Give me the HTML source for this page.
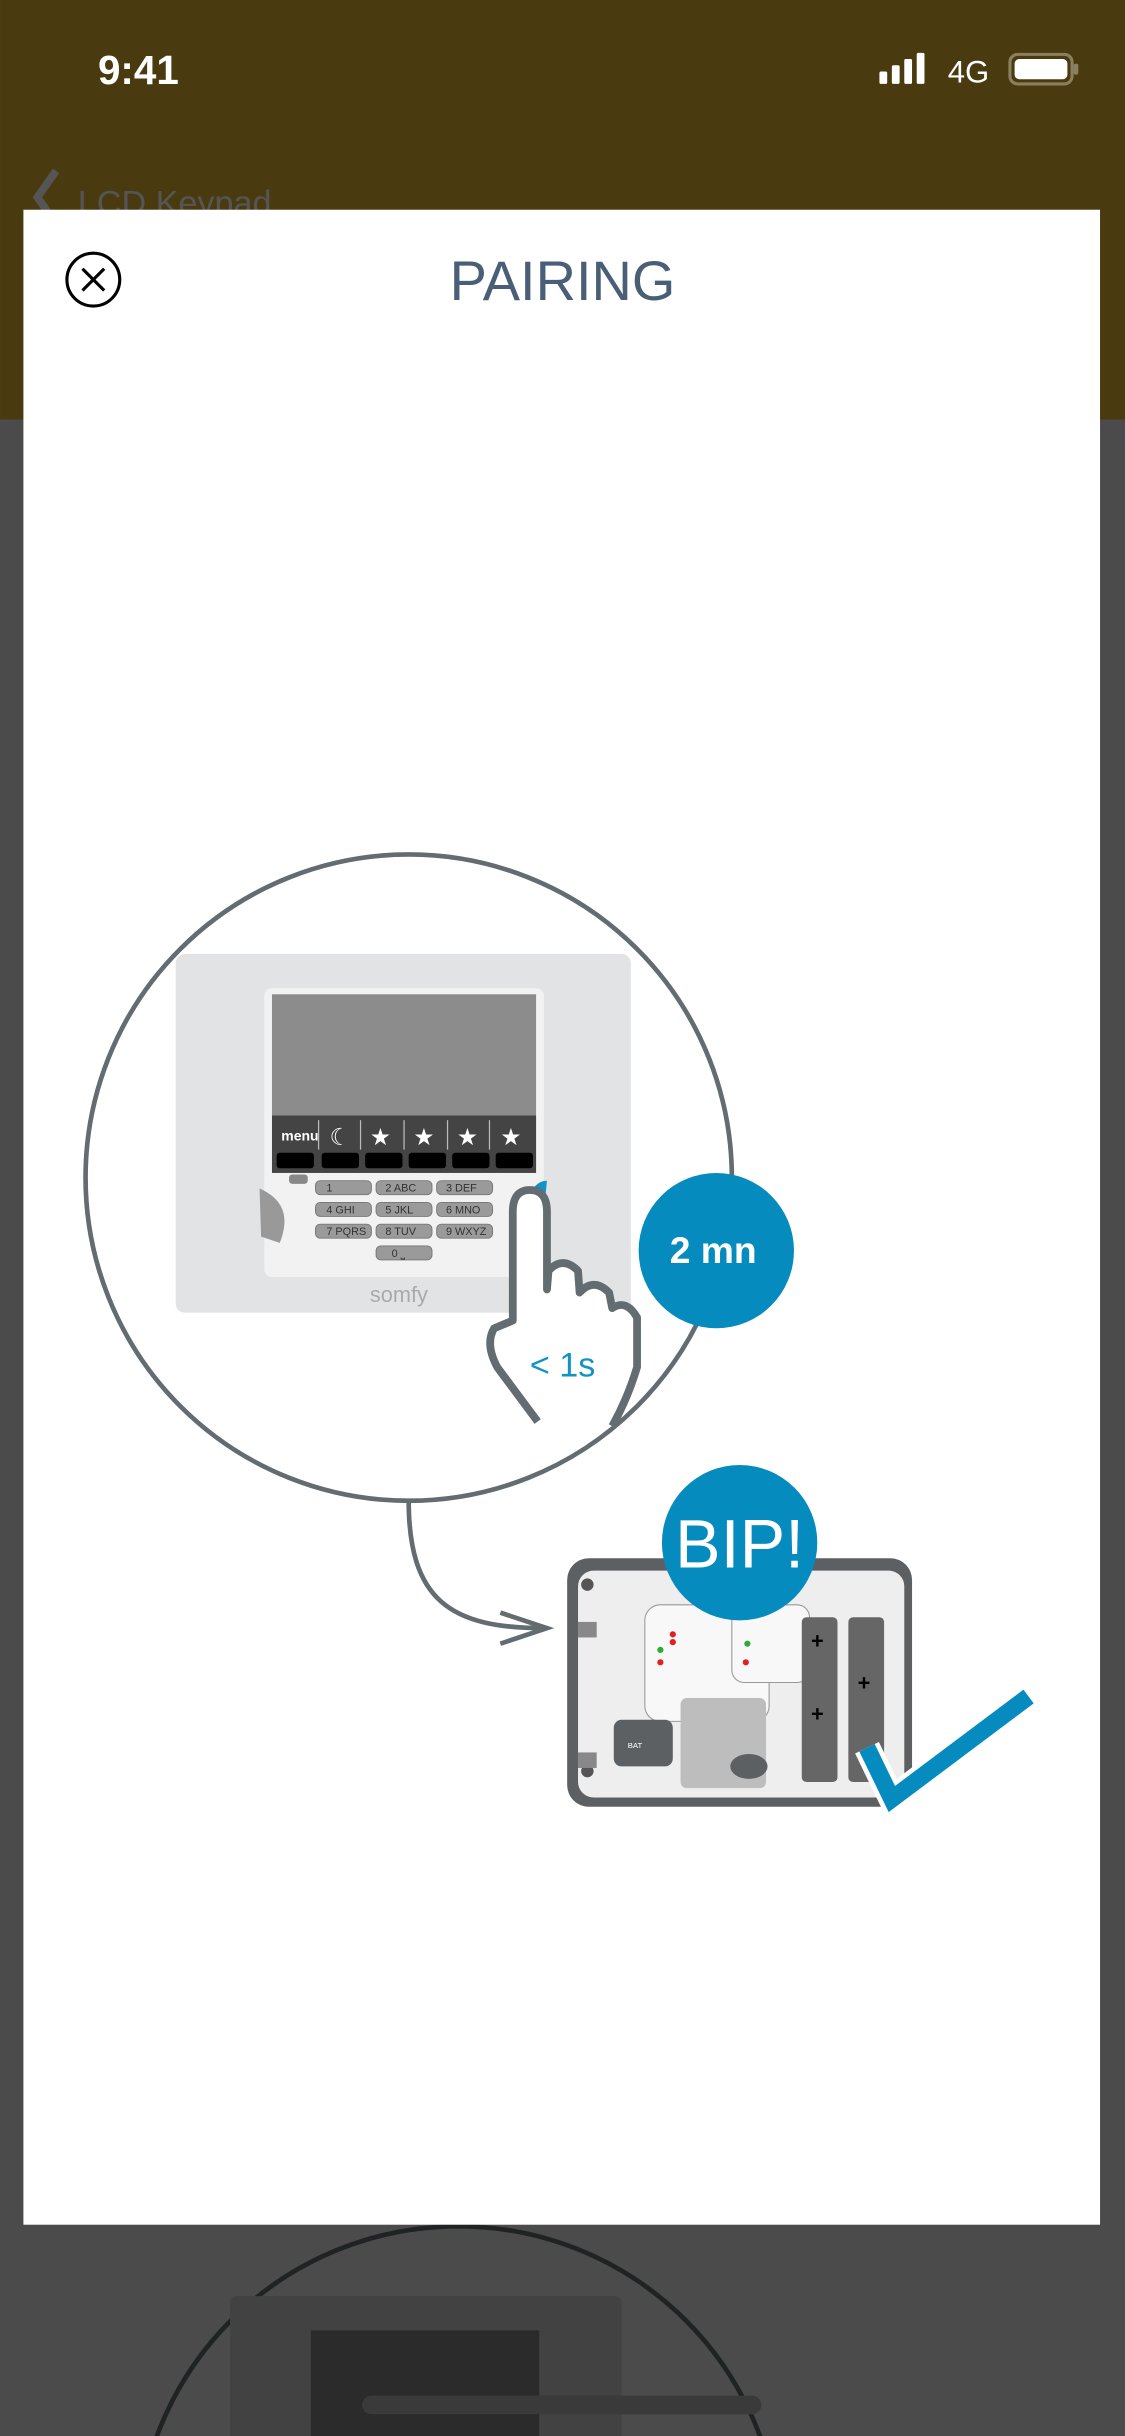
<!DOCTYPE html>
<html><head><meta charset="utf-8"><style>
html,body{margin:0;padding:0;background:#4b4b4b;width:1125px;height:2436px;overflow:hidden;}
svg{display:block;}
</style></head><body>
<svg width="1125" height="2436" viewBox="0 0 724 1568" xmlns="http://www.w3.org/2000/svg" font-family="Liberation Sans, sans-serif">
<rect width="724" height="1568" fill="#4b4b4b"/>
<rect width="724" height="270" fill="#4a3a10"/>
<text x="63" y="54" font-size="26" font-weight="bold" fill="#fff">9:41</text>
<rect x="566" y="46" width="5" height="8" rx="1" fill="#fff"/>
<rect x="574" y="42" width="5" height="12" rx="1" fill="#fff"/>
<rect x="582" y="38" width="5" height="16" rx="1" fill="#fff"/>
<rect x="590" y="34" width="5" height="20" rx="1" fill="#fff"/>
<text x="610" y="53" font-size="20" fill="#fff">4G</text>
<rect x="650" y="35" width="40" height="19" rx="5" fill="none" stroke="#8a8060" stroke-width="2"/>
<rect x="653" y="38" width="34" height="13" rx="3" fill="#fff"/>
<rect x="691" y="41" width="3" height="7" rx="1" fill="#8a8060"/>
<path d="M36 110 L24 127 L36 144" stroke="#555" stroke-width="5" fill="none"/>
<text x="50" y="138" font-size="22" fill="#555">LCD Keypad</text>
<circle cx="295" cy="1640" r="207" fill="none" stroke="#1f2324" stroke-width="3"/>
<rect x="148" y="1478" width="252" height="100" rx="4" fill="#424242"/>
<rect x="200" y="1500" width="147" height="80" fill="#2b2b2b"/>
<rect x="233" y="1542" width="257" height="12" rx="6" fill="#3a3a3a"/>
<rect x="15" y="135" width="693" height="1297" fill="#fff"/>
<circle cx="60" cy="180" r="17" fill="none" stroke="#000" stroke-width="2"/>
<path d="M53 173 L67 187 M67 173 L53 187" stroke="#000" stroke-width="2"/>
<text x="362" y="193" font-size="36" fill="#4a5e78" text-anchor="middle">PAIRING</text>
<rect x="113" y="614" width="293" height="231" rx="6" fill="#e2e3e4"/>
<rect x="170" y="636" width="180" height="186" rx="5" fill="#f2f2f2"/>
<rect x="175" y="640" width="170" height="78" fill="#8c8c8c"/>
<rect x="175" y="718" width="170" height="37" fill="#444"/>
<text x="181" y="734" font-size="9" font-weight="bold" fill="#fff">menu</text>
<g stroke="#bbb" stroke-width="0.8"><path d="M205 721V740M232 721V740M260 721V740M288 721V740M315 721V740"/></g>
<text x="212" y="737" font-size="15" fill="#fff">☾</text>
<g fill="#fff" font-size="15"><text x="238" y="737">★</text><text x="266" y="737">★</text><text x="294" y="737">★</text><text x="322" y="737">★</text></g>
<g fill="#000"><rect x="178" y="742" width="24" height="10" rx="2"/><rect x="207" y="742" width="24" height="10" rx="2"/><rect x="235" y="742" width="24" height="10" rx="2"/><rect x="263" y="742" width="24" height="10" rx="2"/><rect x="291" y="742" width="24" height="10" rx="2"/><rect x="319" y="742" width="24" height="10" rx="2"/></g>
<rect x="186" y="756" width="12" height="6" rx="2" fill="#888"/>
<path d="M167 765 Q190 775 180 800 L168 796 Z" fill="#999"/>
<g fill="#9a9a9a" stroke="#777" stroke-width="0.6">
<rect x="203" y="760" width="36" height="9" rx="3"/><rect x="242" y="760" width="36" height="9" rx="3"/><rect x="281" y="760" width="36" height="9" rx="3"/>
<rect x="203" y="774" width="36" height="9" rx="3"/><rect x="242" y="774" width="36" height="9" rx="3"/><rect x="281" y="774" width="36" height="9" rx="3"/>
<rect x="203" y="788" width="36" height="9" rx="3"/><rect x="242" y="788" width="36" height="9" rx="3"/><rect x="281" y="788" width="36" height="9" rx="3"/>
<rect x="242" y="802" width="36" height="9" rx="3"/></g>
<g font-size="7" fill="#333"><text x="210" y="767">1</text><text x="248" y="767">2 ABC</text><text x="287" y="767">3 DEF</text>
<text x="210" y="781">4 GHI</text><text x="248" y="781">5 JKL</text><text x="287" y="781">6 MNO</text>
<text x="210" y="795">7 PQRS</text><text x="248" y="795">8 TUV</text><text x="287" y="795">9 WXYZ</text><text x="252" y="809">0 ⎵</text></g>
<text x="238" y="838" font-size="14" fill="#aaa">somfy</text>
<path d="M338 778 Q342 760 352 760 L350 780 Z" fill="#1193c4"/>
<circle cx="263" cy="758" r="208" fill="none" stroke="#626c71" stroke-width="3"/>
<path d="M346 915 L320 880 Q312 865 318 855 L330 850 L330 780 Q330 766 341 766 Q352 766 352 780 L352 830 L353 818 Q362 808 372 818 L373 832 Q382 822 392 832 L394 842 Q403 836 410 848 L410 880 Q404 900 394 918" fill="#fff" stroke="#626c71" stroke-width="5" stroke-linejoin="round"/>
<text x="341" y="886" font-size="22" fill="#1193c4">&lt; 1s</text>
<circle cx="461" cy="805" r="50" fill="#058bbd"/>
<text x="459" y="813" font-size="24" font-weight="bold" fill="#fff" text-anchor="middle">2 mn</text>
<path d="M263 966 C263 1030 290 1048 350 1048" fill="none" stroke="#626c71" stroke-width="3"/>
<path d="M322 1038 L352 1048 L322 1058" fill="none" stroke="#626c71" stroke-width="3"/>
<rect x="365" y="1003" width="222" height="160" rx="14" fill="#5d6063"/>
<rect x="372" y="1011" width="210" height="146" rx="10" fill="#eeeeef"/>
<rect x="415" y="1033" width="80" height="75" rx="10" fill="#f8f8f8" stroke="#999" stroke-width="0.7"/>
<rect x="471" y="1033" width="50" height="50" rx="8" fill="#f8f8f8" stroke="#999" stroke-width="0.7"/>
<rect x="516" y="1041" width="23" height="106" rx="3" fill="#666"/>
<rect x="546" y="1041" width="23" height="106" rx="3" fill="#666"/>
<g fill="#000" font-size="14" font-weight="bold"><text x="522" y="1061">+</text><text x="552" y="1088">+</text><text x="522" y="1108">+</text></g>
<rect x="438" y="1093" width="55" height="58" rx="4" fill="#bdbdbd"/>
<rect x="395" y="1107" width="38" height="30" rx="5" fill="#5d6063"/>
<text x="404" y="1125" font-size="5" fill="#fff">BAT</text>
<ellipse cx="482" cy="1137" rx="12" ry="8" fill="#5d6063"/>
<circle cx="378" cy="1020" r="4" fill="#555"/><circle cx="378" cy="1140" r="4" fill="#555"/>
<rect x="372" y="1044" width="12" height="10" fill="#888"/><rect x="372" y="1128" width="12" height="10" fill="#888"/>
<g fill="#d22"><circle cx="433" cy="1052" r="2"/><circle cx="433" cy="1057" r="2"/><circle cx="425" cy="1070" r="2"/><circle cx="480" cy="1070" r="2"/></g>
<g fill="#3a3"><circle cx="481" cy="1058" r="2"/><circle cx="425" cy="1062" r="2"/></g>
<circle cx="476" cy="993" r="50" fill="#058bbd"/>
<text x="476" y="1009" font-size="44" fill="#fff" text-anchor="middle">BIP!</text>
<polyline points="558,1125 574,1158 662,1092" fill="none" stroke="#fff" stroke-width="17"/>
<polyline points="558,1125 574,1158 662,1092" fill="none" stroke="#058bbd" stroke-width="11"/>
</svg>
</body></html>
